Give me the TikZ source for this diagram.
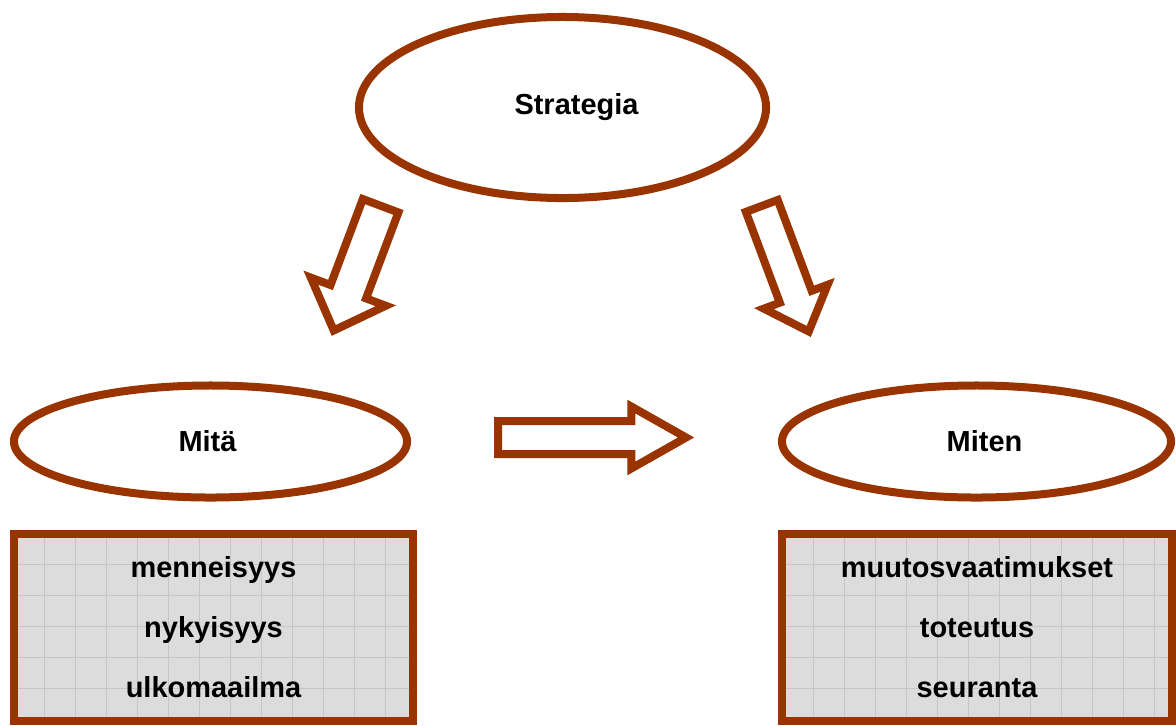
\documentclass[tikz,border=0pt]{standalone}
\usepackage{fontspec}
\setmainfont{Liberation Sans}
\usepackage{tikz}
\usetikzlibrary{shapes.geometric, shapes.arrows, backgrounds}
\definecolor{rustBrown}{HTML}{993300}
\definecolor{boxGray}{HTML}{DCDCDC}
\definecolor{gridGray}{HTML}{C6C6C6}

\begin{document}
\begin{tikzpicture}[
    x=0.025cm, y=-0.025cm,
    oval/.style={ellipse, draw=rustBrown, line width=0.2cm, inner sep=0pt},
    word/.style={font=\bfseries\fontsize{20.6}{24}\selectfont},
    listbox/.style={draw=rustBrown, line width=0.2cm, minimum height=4.675cm, align=center, font=\bfseries\fontsize{20.6}{42.7}\selectfont},
    blockarrow/.style={single arrow, draw=rustBrown, fill=white, line width=0.2cm, anchor=tail, minimum width=0pt, inner xsep=0pt, single arrow head indent=0pt},
    gridline/.style={gridGray, line width=0.7pt},
]
    \useasboundingbox (0,0) rectangle (1176,725);

    % Ovals
    \node[oval, minimum width=10.175cm, minimum height=4.525cm,
        label={[word, xshift=0.35cm]center:Strategia}] (strategia) at (562.5,107.5) {};
    \node[oval, minimum width=9.825cm, minimum height=2.8cm,
        label={[word, xshift=-0.075cm]center:Mitä}] (mita) at (210.5,441.5) {};
    \node[oval, minimum width=9.725cm, minimum height=2.8cm,
        label={[word, xshift=0.2cm]center:Miten}] (miten) at (976.5,441.5) {};

    % Lists
    \node[listbox, minimum width=9.975cm] (pastbox) at (213.5,627.5) {
        menneisyys\\
        nykyisyys\\
        ulkomaailma
    };
    \node[listbox, minimum width=9.75cm] (howbox) at (977,627.5) {
        muutosvaatimukset\\
        toteutus\\
        seuranta
    };

    \begin{scope}[on background layer]
        \fill[boxGray] (pastbox.south west) rectangle (pastbox.north east);
        \fill[boxGray] (howbox.south west) rectangle (howbox.north east);
        \foreach \gx in {44.3, 75.3, ..., 410}
            \draw[gridline] (\gx,534) -- (\gx,721);
        \foreach \gx in {813.3, 844.3, ..., 1170}
            \draw[gridline] (\gx,534) -- (\gx,721);
        \foreach \gy in {564.3, 595.3, ..., 718}
        {
            \draw[gridline] (14,\gy) -- (413,\gy);
            \draw[gridline] (782,\gy) -- (1172,\gy);
        }
    \end{scope}

    % Arrows
    \node[blockarrow, rotate=-110.6, minimum height=3.33cm, inner ysep=0.375cm,
        single arrow head extend=0.525cm, single arrow tip angle=88] (leftdown) at (382,202) {};
    \node[blockarrow, rotate=-69.5, minimum height=3.35cm, inner ysep=0.325cm,
        single arrow head extend=0.425cm, single arrow tip angle=85] (rightdown) at (760.4,202.2) {};
    \node[blockarrow, minimum height=4.7cm, inner ysep=0.3125cm,
        single arrow head extend=0.3625cm, single arrow tip angle=59] (across) at (494,437.5) {};
\end{tikzpicture}
\end{document}
